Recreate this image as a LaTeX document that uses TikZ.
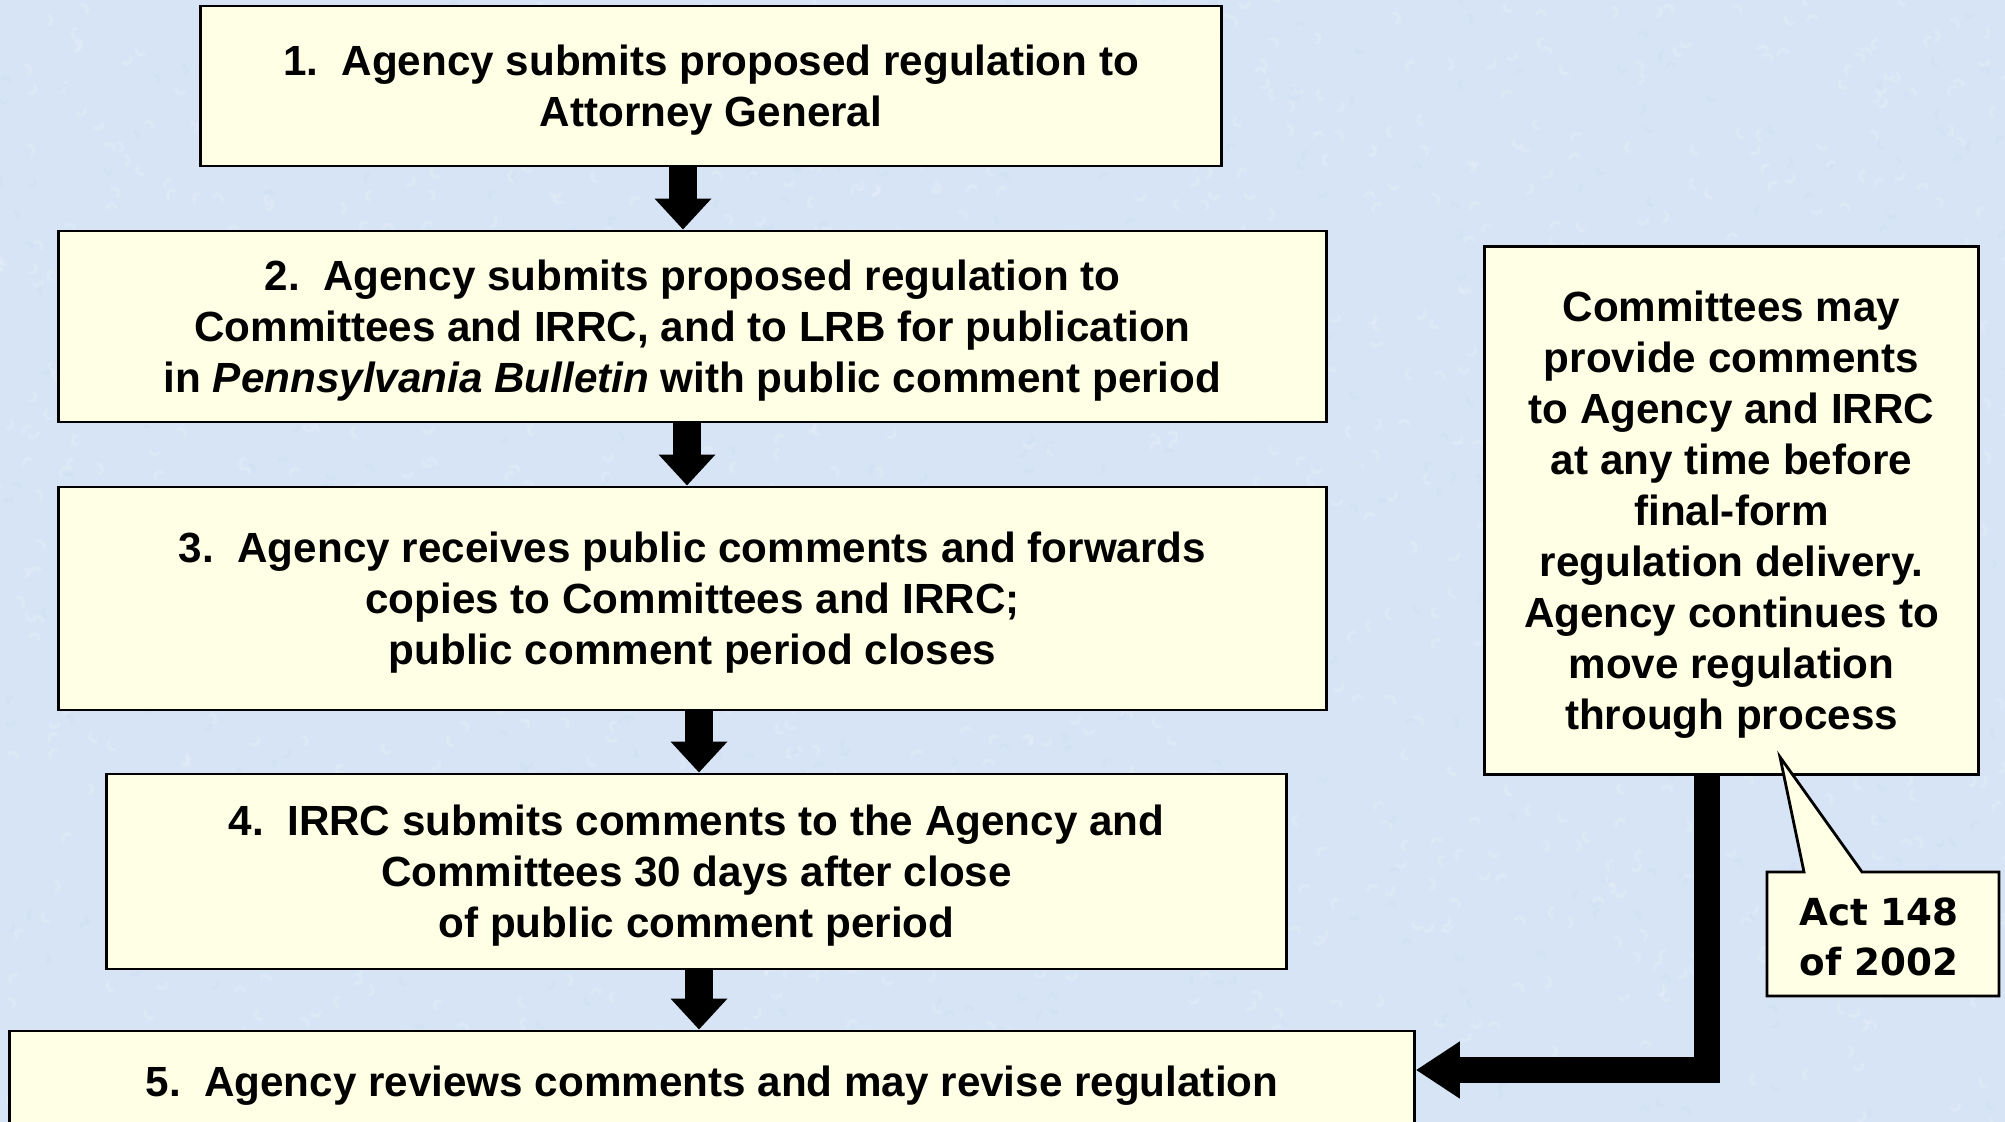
\documentclass[tikz,border=0pt]{standalone}
\usepackage{fontspec}
\setmainfont{Liberation Sans}
\newfontfamily\actfont{DejaVu Sans}
\usepackage{tikz}
\usetikzlibrary{arrows.meta,calc}

\definecolor{fond}{RGB}{214,228,245}
\definecolor{grain}{RGB}{236,242,251}
\definecolor{grainb}{RGB}{200,217,240}
\definecolor{papier}{RGB}{255,255,229}

\tikzset{etape/.style={draw=black,line width=0.8pt,fill=papier,inner sep=0pt,align=center,
    text depth=-1.2pt,font=\fontsize{12}{14.5}\selectfont\bfseries}}

\begin{document}
\begin{tikzpicture}[x=0.01cm,y=-0.01cm]
\pgfmathsetmacro{\wtige}{0.28}%
\pgfmathsetmacro{\wpointe}{0.55}%
\pgfmathsetmacro{\hpointe}{0.31}%
\pgfmathsetseed{148}%

\useasboundingbox (0,0) rectangle (2005,1122);
\clip (0,0) rectangle (2005,1122);
\fill[fond] (0,0) rectangle (2005,1122);
    %grain du fond
    \foreach \i in {1,...,1200}{
        \pgfmathsetmacro{\gx}{rnd*2005}%
        \pgfmathsetmacro{\gy}{rnd*1122}%
        \pgfmathsetmacro{\ga}{rnd*360}%
        \draw[grain,opacity=0.3,line width=1pt,line cap=round] (\gx,\gy) arc[start angle=\ga,delta angle=150,radius=5];
    }
    \foreach \i in {1,...,600}{
        \pgfmathsetmacro{\gx}{rnd*2005}%
        \pgfmathsetmacro{\gy}{rnd*1122}%
        \pgfmathsetmacro{\ga}{rnd*360}%
        \draw[grainb,opacity=0.25,line width=0.9pt,line cap=round] (\gx,\gy) arc[start angle=\ga,delta angle=140,radius=4];
    }

    %etapes
    \node[etape,minimum width=10.2cm,minimum height=1.6cm] (e1) at (711,86)
        {1.\ \ Agency submits proposed regulation to\\Attorney General};
    \node[etape,minimum width=12.67cm,minimum height=1.91cm] (e2) at (692.5,326.5)
        {2.\ \ Agency submits proposed regulation to\\Committees and IRRC, and to LRB for publication\\in \textit{Pennsylvania Bulletin} with public comment period};
    \node[etape,minimum width=12.67cm,minimum height=2.23cm] (e3) at (692.5,598.5)
        {3.\ \ Agency receives public comments and forwards\\copies to Committees and IRRC;\\public comment period closes};
    \node[etape,minimum width=11.79cm,minimum height=1.95cm] (e4) at (696.5,871.5)
        {4.\ \ IRRC submits comments to the Agency and\\Committees 30 days after close\\of public comment period};
    \node[etape,minimum width=14.04cm,minimum height=1.0cm] (e5) at (712,1081)
        {5.\ \ Agency reviews comments and may revise regulation};

    %encadre de droite
    \node[etape,minimum width=4.93cm,minimum height=5.27cm] (cote) at (1731.5,510.5)
        {Committees may\\provide comments\\to Agency and IRRC\\at any time before\\final-form\\regulation delivery.\\Agency continues to\\move regulation\\through process};

    %bulle
    \draw[line width=0.8pt,fill=papier] (1767,872) -- (1804,872) -- (1780,757) -- (1862,872)
        -- (1999,872) -- (1999,996) -- (1767,996) -- cycle;
    \node[font=\actfont\bfseries\fontsize{10.6}{14.2}\selectfont,align=center] (acte) at (1879,937)
        {Act 148\\of 2002};

    %fleches
    \coordinate (f1) at (683,0);
    \coordinate (f2) at (687,0);
    \coordinate (f3) at (699,0);
    \coordinate (f4) at (699,0);
    \draw[line width=\wtige cm,-{Triangle[width=\wpointe cm,length=\hpointe cm]}] (e1.south -| f1) -- (e2.north -| f1);
    \draw[line width=\wtige cm,-{Triangle[width=\wpointe cm,length=\hpointe cm]}] (e2.south -| f2) -- (e3.north -| f2);
    \draw[line width=\wtige cm,-{Triangle[width=\wpointe cm,length=\hpointe cm]}] (e3.south -| f3) -- (e4.north -| f3);
    \draw[line width=\wtige cm,-{Triangle[width=\wpointe cm,length=\hpointe cm]}] (e4.south -| f4) -- (e5.north -| f4);

    %retour vers etape 5
    \coordinate (coude) at (1707,1070);
    \draw[line width=0.26cm,-{Triangle[width=0.54cm,length=0.44cm]}] (cote.south -| coude) -- (coude) -- (coude -| e5.east);

\end{tikzpicture}
\end{document}
